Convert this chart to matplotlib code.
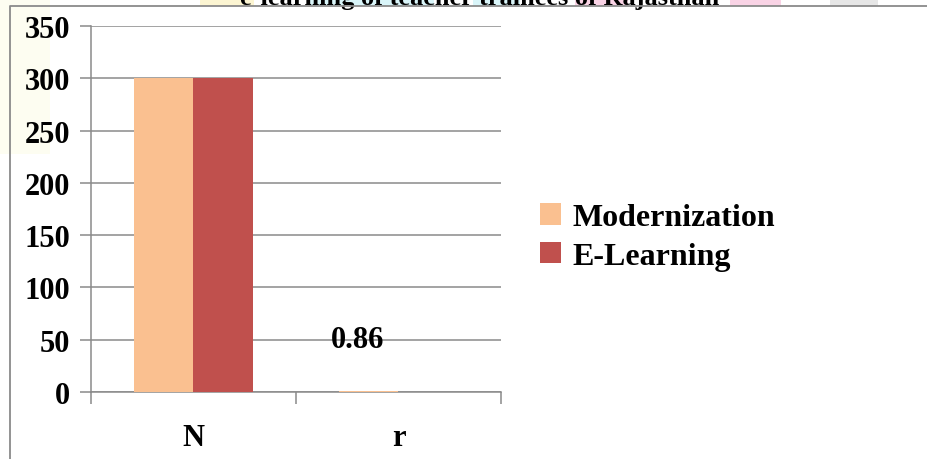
import numpy as np
import matplotlib
matplotlib.use("Agg")
import matplotlib.pyplot as plt
from matplotlib.patches import Rectangle
from matplotlib.lines import Line2D

# ---- data ----
categories = ["N", "r"]
series_names = ["Modernization", "E-Learning"]
modernization = [300, 0.86]
e_learning = [300, np.nan]
y_ticks = [0, 50, 100, 150, 200, 250, 300, 350]
title_text = "e-learning of teacher trainees of Rajasthan"

# ---- styling ----
W, H = 928, 460
SERIF = "Liberation Serif"
GRID = "#8a8a8a"
COLORS = ["#FAC090", "#C0504D"]

fig = plt.figure(figsize=(W / 100, H / 100), dpi=100)
fig.patch.set_facecolor("white")


def px_rect(x0, y0, x1, y1, color):
    """Rectangle given in pixel coordinates measured from the top-left corner."""
    return Rectangle((x0 / W, 1 - y1 / H), (x1 - x0) / W, (y1 - y0) / H,
                     transform=fig.transFigure, facecolor=color,
                     edgecolor="none", zorder=0)


# chart area (white)
fig.add_artist(px_rect(10, 7, W + 5, H + 5, "white"))

# faint page tint patches
for x0, y0, x1, y1, c in [
    (0, 0, 50, 155, "#fdfdf1"),
    (200, 0, 254, 7, "#fcf5d2"),
    (310, 0, 434, 7, "#d9f5f9"),
    (473, 0, 520, 7, "#d9f5f9"),
    (575, 0, 628, 7, "#f9d3e5"),
    (730, 0, 781, 7, "#f9d3e5"),
    (830, 0, 878, 7, "#e6e6e6"),
]:
    fig.add_artist(px_rect(x0, y0, x1, y1, c))

# grey frame on left and top
fig.add_artist(Line2D([10 / W, 10 / W, 1.01], [-0.01, 1 - 7 / H, 1 - 7 / H],
                      transform=fig.transFigure, color=GRID, lw=1.3, zorder=2))

# title line (upper part lies outside the canvas)
fig.text(480 / W, 1 - 5 / H, title_text, ha="center", va="baseline",
         fontsize=19, fontweight="bold", family=SERIF, zorder=1)

ax = fig.add_axes([91 / W, 1 - 393 / H, (501 - 91) / W, (393 - 27) / H])
ax.set_facecolor("none")

x = np.arange(len(categories))
w = 0.288
bars_m = ax.bar(x - w / 2, modernization, w, color=COLORS[0], label=series_names[0], zorder=3)
bars_e = ax.bar(x + w / 2, e_learning, w, color=COLORS[1], label=series_names[1], zorder=3)

ax.set_xlim(-0.5, len(categories) - 0.5)
ax.set_ylim(0, 350)
ax.set_yticks(y_ticks)
ax.set_yticklabels([str(v) for v in y_ticks])
ax.yaxis.grid(True, color=GRID, lw=1.1)
ax.set_axisbelow(True)

# category boundaries as major ticks, category names as minor ticks
ax.set_xticks(np.arange(len(categories) + 1) - 0.5)
ax.set_xticklabels([])
ax.set_xticks(x, minor=True)
ax.set_xticklabels(categories, minor=True)
ax.tick_params(axis="x", which="major", direction="out", length=8.6, width=1.1, color=GRID)
ax.tick_params(axis="x", which="minor", length=0, pad=22)
ax.tick_params(axis="y", direction="out", length=8, width=1.1, color=GRID, pad=7)

for lbl in ax.get_xticklabels(minor=True) + ax.get_yticklabels():
    lbl.set_fontfamily(SERIF)
    lbl.set_fontweight("bold")
    lbl.set_fontsize(22)

for side in ["top", "right"]:
    ax.spines[side].set_visible(False)
for side in ["left", "bottom"]:
    ax.spines[side].set_color(GRID)
    ax.spines[side].set_linewidth(1.1)

# value label for the correlation coefficient
ax.annotate(f"{modernization[1]:.2f}", xy=(x[1] - w / 2, modernization[1]),
            xytext=(-8, 37), textcoords="offset points", ha="center", va="center",
            fontsize=22, fontweight="bold", family=SERIF, zorder=4)

fig.legend(handles=[bars_m, bars_e], labels=series_names,
           loc="center left", bbox_to_anchor=(540 / W, 1 - 238 / H),
           frameon=False, prop={"family": SERIF, "weight": "bold", "size": 23},
           handlelength=0.66, handleheight=0.66, handletextpad=0.35,
           labelspacing=0.3, borderaxespad=0, borderpad=0)

fig.savefig("out.png", dpi=100)
